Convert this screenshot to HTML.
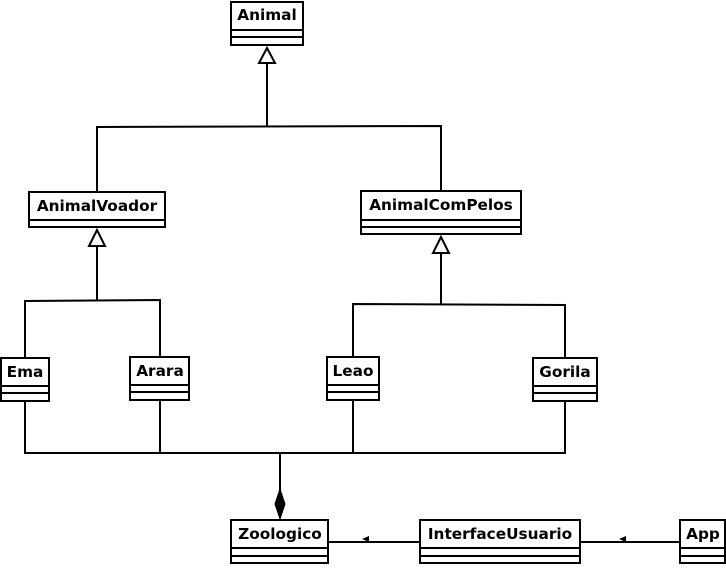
<!DOCTYPE html>
<html><head><style>
body{margin:0;background:#fff;}
</style></head><body>
<svg width="726" height="574" xmlns="http://www.w3.org/2000/svg">
<g fill="none" stroke="#000" stroke-width="2">
<polyline points="267,63 267,126"/>
<polyline points="97,192 97,127 441,126 441,191"/>
<polygon points="267,48 259,63 275,63" fill="#fff"/>
<polyline points="97,246 97,300"/>
<polyline points="25,358 25,301 160,300 160,357"/>
<polygon points="97,230 89,246 105,246" fill="#fff"/>
<polyline points="441,253 441,304"/>
<polyline points="353,357 353,304 565,305 565,358"/>
<polygon points="441,237 433,253 449,253" fill="#fff"/>
<polyline points="25,401 25,453 565,453 565,401"/>
<line x1="160" y1="400" x2="160" y2="453"/>
<line x1="353" y1="400" x2="353" y2="453"/>
<line x1="280" y1="453" x2="280" y2="492"/>
<polygon points="280,489 285,504 280,519 275,504" fill="#000" stroke-width="1"/>
<line x1="328" y1="542" x2="420" y2="542"/>
<line x1="580" y1="542" x2="680" y2="542"/>
</g>
<polygon points="362,539 369,536 369,542" fill="#000"/>
<polygon points="619,539 626,536 626,542" fill="#000"/>
<g fill="#fff" stroke="#000" stroke-width="2">
<rect x="231" y="2" width="72" height="43"/><line x1="231" y1="30" x2="303" y2="30"/><line x1="231" y1="37" x2="303" y2="37"/>
<rect x="29" y="192" width="136" height="35"/><line x1="29" y1="220" x2="165" y2="220"/>
<rect x="361" y="191" width="160" height="43"/><line x1="361" y1="220" x2="521" y2="220"/><line x1="361" y1="227" x2="521" y2="227"/>
<rect x="1" y="358" width="48" height="43"/><line x1="1" y1="386" x2="49" y2="386"/><line x1="1" y1="393" x2="49" y2="393"/>
<rect x="130" y="357" width="59" height="43"/><line x1="130" y1="385" x2="189" y2="385"/><line x1="130" y1="392" x2="189" y2="392"/>
<rect x="327" y="357" width="52" height="43"/><line x1="327" y1="385" x2="379" y2="385"/><line x1="327" y1="392" x2="379" y2="392"/>
<rect x="533" y="358" width="64" height="43"/><line x1="533" y1="386" x2="597" y2="386"/><line x1="533" y1="393" x2="597" y2="393"/>
<rect x="231" y="520" width="97" height="43"/><line x1="231" y1="548" x2="328" y2="548"/><line x1="231" y1="556" x2="328" y2="556"/>
<rect x="420" y="520" width="160" height="43"/><line x1="420" y1="548" x2="580" y2="548"/><line x1="420" y1="556" x2="580" y2="556"/>
<rect x="680" y="520" width="45" height="43"/><line x1="680" y1="548" x2="725" y2="548"/><line x1="680" y1="556" x2="725" y2="556"/>
</g>
<g font-family="DejaVu Sans, Liberation Sans, sans-serif" font-weight="bold" font-size="15.3" fill="#000" text-anchor="middle">
<text x="267" y="20">Animal</text>
<text x="97" y="211">AnimalVoador</text>
<text x="441" y="210">AnimalComPelos</text>
<text x="25" y="377">Ema</text>
<text x="160" y="376">Arara</text>
<text x="353" y="376">Leao</text>
<text x="565" y="377">Gorila</text>
<text x="280" y="539">Zoologico</text>
<text x="500" y="539">InterfaceUsuario</text>
<text x="703" y="539">App</text>
</g>
</svg>
</body></html>
